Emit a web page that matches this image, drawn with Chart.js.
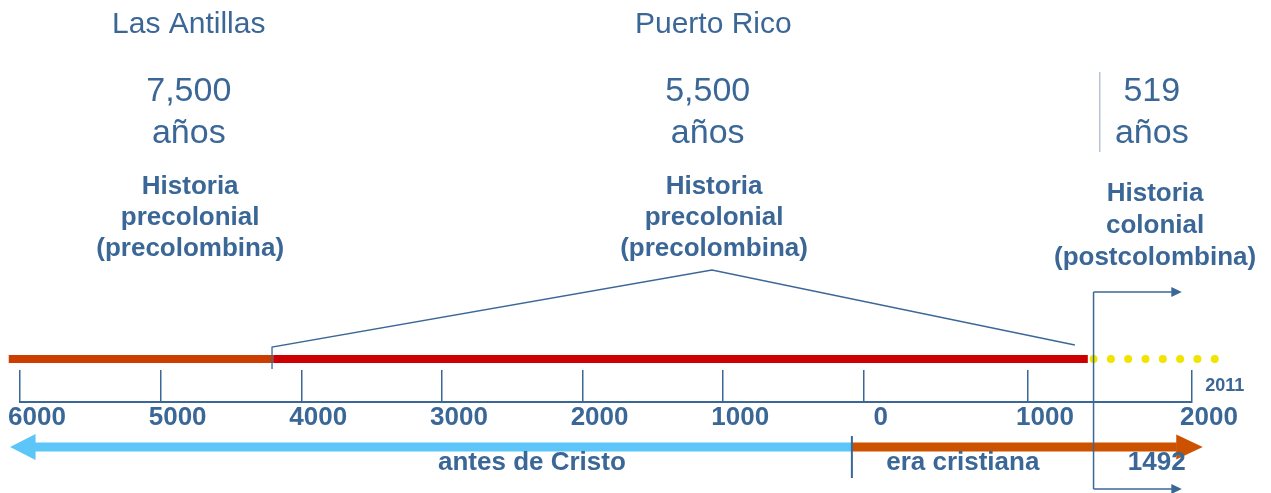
<!DOCTYPE html>
<html lang="es">
<head>
<meta charset="utf-8">
<title>Línea de tiempo - Las Antillas y Puerto Rico</title>
<script src="https://cdn.jsdelivr.net/npm/chart.js@4/dist/chart.umd.min.js"></script>
<style>
  html, body { margin: 0; padding: 0; background: #ffffff; }
  #wrap { width: 1271px; height: 493px; position: relative; }
</style>
</head>
<body>
<div id="wrap"><canvas id="timeline"></canvas></div>
<script>
// years: negative = antes de Cristo, positive = era cristiana
const tickYears = [-6000, -5000, -4000, -3000, -2000, -1000, 0, 1000, 2000];
const antillasSpan = [-6080, -4200];
const puertoRicoSpan = [-4200, 1365];
const colonialSpan = [1400, 2140];
const contactYear = 1400;
const eraSplitYear = -85;
const bcArrowEnd = -5893;
const adArrowEnd = 1907;
const sideArrowEnd = 1877;
const zoomBracket = [-4208, -4208, -1080, 1286];

// texts: [label, year, lane, kind]
const notes = [
    ['Las Antillas', -4800, 377, 'title'],
    ['Puerto Rico', -1070, 377, 'title'],
    ['7,500', -4800, 310, 'big'],
    ['años', -4800, 268, 'big'],
    ['5,500', -1110, 310, 'big'],
    ['años', -1110, 268, 'big'],
    ['519', 1755, 310, 'big'],
    ['años', 1755, 268, 'big'],
    ['Historia', -4790, 215, 'bold'],
    ['precolonial', -4790, 184, 'bold'],
    ['(precolombina)', -4790, 153, 'bold'],
    ['Historia', -1065, 215, 'bold'],
    ['precolonial', -1065, 184, 'bold'],
    ['(precolombina)', -1065, 153, 'bold'],
    ['Historia', 1775, 208, 'bold'],
    ['colonial', 1775, 176, 'bold'],
    ['(postcolombina)', 1775, 144, 'bold'],
    ['antes de Cristo', -2360, -61, 'bold'],
    ['era cristiana', 603, -61, 'bold'],
    ['1492', 1785, -61, 'bold'],
    ['2011', 2200, 16, 'small']
];

// vertical lanes (units above the axis line)
const lane = { bar: 43, era: -45, eraTop: -34, eraBottom: -76, topArrow: 110, bottomArrow: -87, noteTop: 330, noteBottom: 250 };
const bracketLanes = [33, 55, 132, 57];

const blue = '#3b6797';
const FONT = '"Liberation Sans", Arial, sans-serif';
const fonts = {
    title: 'normal 30px ' + FONT,
    big: 'normal 34px ' + FONT,
    bold: 'bold 26px ' + FONT,
    small: 'bold 18px ' + FONT
};

// linear scale with a different density before and after year 0
class EraScale extends Chart.LinearScale {
    getPixelForValue(value) {
        const share = this.options.bcShare;
        let dec;
        if (value <= 0) {
            dec = share * (value - this.min) / (0 - this.min);
        } else {
            dec = share + (1 - share) * value / this.max;
        }
        return this.getPixelForDecimal(dec);
    }
    getValueForPixel(pixel) {
        const share = this.options.bcShare;
        const dec = this.getDecimalForPixel(pixel);
        if (dec <= share) return this.min + dec / share * (0 - this.min);
        return (dec - share) / (1 - share) * this.max;
    }
}
EraScale.id = 'era';
EraScale.defaults = Chart.LinearScale.defaults;
Chart.register(EraScale);

function seg(xs, ys) {
    return xs.map((x, i) => ({ x: x, y: ys[i] }));
}

// points outside the chart area are skipped by Chart.js, so heads are drawn here
const arrowHeadPlugin = {
    id: 'arrowHeads',
    afterDatasetsDraw(chart) {
        const c = chart.ctx;
        chart.data.datasets.forEach((ds, i) => {
            if (!ds.head) return;
            const pts = chart.getDatasetMeta(i).data;
            const a = pts[pts.length - 2];
            const b = pts[pts.length - 1];
            const dir = Math.sign(b.x - a.x);
            c.save();
            c.fillStyle = ds.borderColor;
            c.beginPath();
            c.moveTo(b.x + dir * ds.head[0], b.y);
            c.lineTo(b.x - dir * 0.5, b.y - ds.head[1] / 2);
            c.lineTo(b.x - dir * 0.5, b.y + ds.head[1] / 2);
            c.closePath();
            c.fill();
            c.restore();
        });
    }
};

const notesPlugin = {
    id: 'notes',
    afterDatasetsDraw(chart) {
        const c = chart.ctx;
        const xs = chart.scales.x;
        const ys = chart.scales.y;
        c.save();
        c.fillStyle = blue;
        c.textAlign = 'center';
        c.textBaseline = 'middle';
        notes.forEach(n => {
            c.font = fonts[n[3]];
            c.fillText(n[0], xs.getPixelForValue(n[1]), ys.getPixelForValue(n[2]));
        });
        c.restore();
    }
};

const ctx = document.getElementById('timeline');

new Chart(ctx, {
    type: 'line',
    data: {
        datasets: [
            { data: seg([contactYear, contactYear], [lane.topArrow, lane.bottomArrow]), borderColor: blue, borderWidth: 1.5 },
            { data: seg([contactYear, sideArrowEnd], [lane.topArrow, lane.topArrow]), borderColor: blue, borderWidth: 1.5, head: [10, 10] },
            { data: seg([contactYear, sideArrowEnd], [lane.bottomArrow, lane.bottomArrow]), borderColor: blue, borderWidth: 1.5, head: [10, 10] },
            { data: seg([eraSplitYear, eraSplitYear], [lane.eraTop, lane.eraBottom]), borderColor: blue, borderWidth: 2 },
            { data: seg([eraSplitYear, bcArrowEnd], [lane.era, lane.era]), borderColor: '#5bc6f7', borderWidth: 9, head: [25, 26] },
            { data: seg([eraSplitYear, adArrowEnd], [lane.era, lane.era]), borderColor: '#cc5200', borderWidth: 9, head: [26, 25] },
            { data: seg(zoomBracket, bracketLanes), borderColor: blue, borderWidth: 1.3 },
            { data: seg(antillasSpan, [lane.bar, lane.bar]), borderColor: '#cc3d00', borderWidth: 8 },
            { data: seg(puertoRicoSpan, [lane.bar, lane.bar]), borderColor: '#cc0000', borderWidth: 8 },
            { data: seg(colonialSpan, [lane.bar, lane.bar]), borderColor: '#f0e400', borderWidth: 8, borderDash: [0.01, 17.3], borderCapStyle: 'round' },
            { data: seg([1438, 1438], [lane.noteTop, lane.noteBottom]), borderColor: '#a9b6c9', borderWidth: 1.2 }
        ]
    },
    options: {
        responsive: true,
        maintainAspectRatio: false,
        animation: false,
        layout: { padding: { top: 370, left: 20, right: 79, bottom: 51 } },
        datasets: { line: { clip: false, pointRadius: 0, tension: 0, borderCapStyle: 'butt' } },
        plugins: { legend: { display: false }, tooltip: { enabled: false } },
        scales: {
            x: {
                type: 'era',
                min: -6000,
                max: 2000,
                bcShare: 0.72,
                afterBuildTicks: s => { s.ticks = tickYears.map(v => ({ value: v })); },
                afterFit: s => { s.paddingLeft = 0; s.paddingRight = 0; s.height = 40; },
                grid: { color: blue, lineWidth: 1.5, drawTicks: false },
                border: { color: blue, width: 2 },
                ticks: {
                    callback: v => String(Math.abs(v)),
                    color: blue,
                    font: { family: FONT, size: 26, weight: 'bold' },
                    padding: 0,
                    labelOffset: 17,
                    maxRotation: 0,
                    autoSkip: false
                }
            },
            y: { display: false, min: 0, max: 32 }
        }
    },
    plugins: [arrowHeadPlugin, notesPlugin]
});
</script>
</body>
</html>
